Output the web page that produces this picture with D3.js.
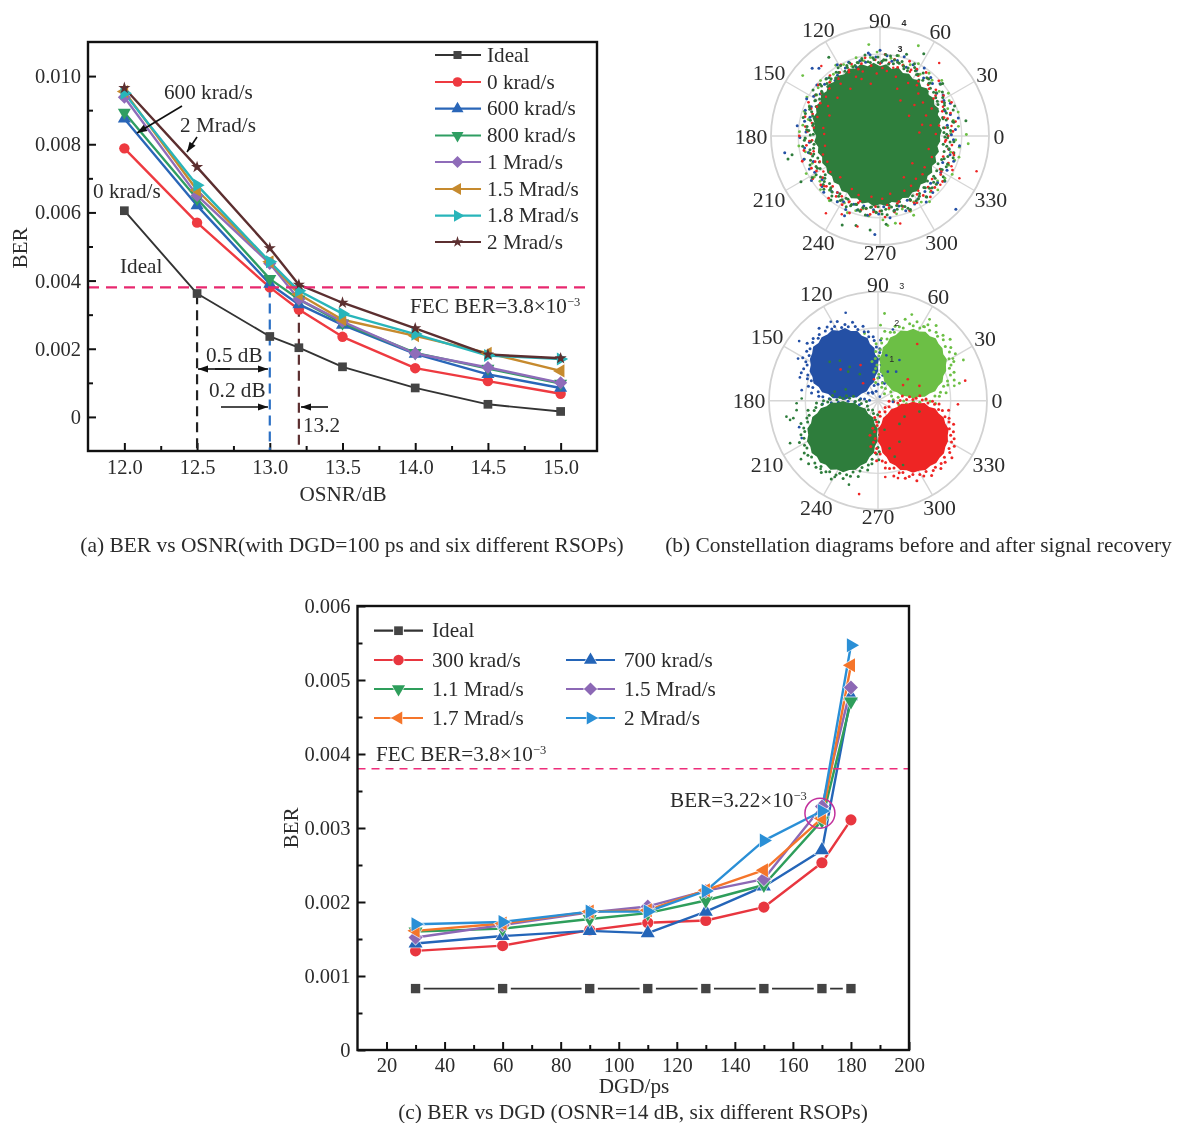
<!DOCTYPE html>
<html><head><meta charset="utf-8">
<script src="https://cdnjs.cloudflare.com/ajax/libs/d3/7.8.5/d3.min.js"></script>
<style>
html,body{margin:0;padding:0;background:#fff}
svg{display:block;filter:blur(0.35px)}
text{font-family:"Liberation Serif",serif;fill:#2b2b2b}
</style></head><body>
<svg id="c" width="1178" height="1123"></svg>
<script>
// ---------- panel (a) data ----------
const osnr=[12,12.5,13,13.2,13.5,14,14.5,15];
const osnrTicks=[12,12.5,13,13.5,14,14.5,15];
const a_names=["Ideal","0 krad/s","600 krad/s","800 krad/s","1 Mrad/s","1.5 Mrad/s","1.8 Mrad/s","2 Mrad/s"];
const a_ideal=[.00605,.00362,.00236,.00203,.00147,.00085,.00037,.00016];
const a_0k=[.00788,.0057,.0038,.00315,.00235,.00143,.00105,.00068];
const a_600k=[.00875,.0062,.0039,.0033,.0027,.00185,.00125,.00085];
const a_800k=[.00893,.0064,.00405,.00345,.00275,.00188,.00142,.00098];
const a_1M=[.00938,.0065,.0045,.00345,.0028,.00186,.00145,.001];
const a_15M=[.00955,.00665,.00455,.0036,.00285,.00238,.00187,.00135];
const a_18M=[.0095,.0068,.00455,.0037,.00303,.00243,.0018,.0017];
const a_2M=[.00965,.00733,.00495,.00388,.00335,.0026,.00183,.00172];
const a_series=[a_ideal,a_0k,a_600k,a_800k,a_1M,a_15M,a_18M,a_2M];
const a_colors=["#333333","#ee3a40","#2a66b8","#2f9e62","#8f6cb9","#c68a2e","#28b5ba","#5c2f30"];
const a_markers=["square","circle","up","down","diamond","left","right","star"];
const fec=0.0038;
// ---------- panel (c) data ----------
const dgd=[30,60,90,110,130,150,170,180];
const c_names=["Ideal","300 krad/s","700 krad/s","1.1 Mrad/s","1.5 Mrad/s","1.7 Mrad/s","2 Mrad/s"];
const c_ideal=[.00083,.00083,.00083,.00083,.00083,.00083,.00083,.00083];
const c_300k=[.00134,.00141,.00162,.00172,.00175,.00193,.00253,.00311];
const c_700k=[.00144,.00154,.00161,.00158,.00187,.00221,.0027,.00478];
const c_11M=[.0016,.00164,.00177,.00185,.00202,.00223,.0031,.00471];
const c_15M=[.00152,.00169,.00186,.00194,.00215,.00231,.00329,.0049];
const c_17M=[.00161,.00171,.00187,.00189,.00216,.00243,.00313,.0052];
const c_2M=[.0017,.00173,.00187,.00187,.00215,.00283,.00323,.00547];
const c_series=[c_ideal,c_300k,c_700k,c_11M,c_15M,c_17M,c_2M];
const c_colors=["#333333","#e8363f","#2465b8","#2e9e5b","#8c68b5","#f5752a","#2a8fd6"];
const c_markers=["square","circle","up","down","diamond","left","right"];
// ---------- panel (b) data ----------
const angles=[0,30,60,90,120,150,180,210,240,270,300,330];
// top constellation: ragged core outline every 5 deg
const b1_core=[2.2,2.28,2.2,2.32,2.26,2.38,2.3,2.42,2.34,2.46,2.36,2.5,2.42,2.52,2.46,2.6,2.5,2.64,2.56,2.7,2.6,2.74,2.64,2.72,2.62,2.7,2.6,2.68,2.56,2.64,2.52,2.6,2.48,2.56,2.42,2.48,2.34,2.42,2.3,2.36,2.26,2.34,2.28,2.36,2.3,2.4,2.34,2.46,2.4,2.52,2.44,2.56,2.48,2.6,2.5,2.58,2.46,2.54,2.42,2.5,2.38,2.46,2.32,2.4,2.28,2.34,2.2,2.28,2.16,2.24,2.14,2.22];
// dense fringe: radius of a dot per angular slot of the band around the core
const b1_ring_dg=[2.45,2.6,2.35,2.75,2.5,2.4,2.85,2.55,2.62,2.42,2.7,2.48,2.6,2.92,2.55,2.68,2.75,2.58,2.8,2.66,2.72,2.94,2.7,2.62,2.85,2.78,2.7,2.96,2.8,2.74,2.9,2.82,2.72,3.02,2.86,2.8,2.74,2.9,2.78,2.7,2.94,2.84,2.66,2.76,2.88,2.64,2.82,2.7,2.98,2.6,2.72,2.5,2.8,2.66,2.58,2.9,2.48,2.7,2.62,2.45,2.75,2.55,2.86,2.48,2.66,2.58,2.42,2.78,2.6,2.5,2.92,2.65,2.55,2.74,2.84,2.62,2.7,2.96,2.68,2.78,2.6,2.88,2.72,2.66,2.82,2.7,2.95,2.64,2.76,2.6,2.86,2.7,2.56,2.8,2.62,2.52,2.74,2.92,2.6,2.5,2.7,2.56,2.82,2.48,2.64,2.4,2.72,2.55,2.88,2.44,2.6,2.36,2.68,2.5,2.8,2.42,2.58,2.34,2.72,2.48];
const b1_ring2_dg=[2.35,2.5,2.72,2.4,2.58,2.3,2.66,2.46,2.8,2.54,2.38,2.64,2.74,2.5,2.62,2.82,2.6,2.7,2.76,2.84,2.66,2.8,2.7,2.88,2.76,2.92,2.82,2.72,2.86,2.96,2.78,2.68,2.84,2.74,2.9,2.64,2.8,2.7,2.58,2.76,2.86,2.62,2.5,2.7,2.56,2.78,2.44,2.62,2.52,2.7,2.42,2.58,2.74,2.46,2.64,2.54,2.68,2.82,2.58,2.72,2.6,2.78,2.66,2.86,2.7,2.62,2.8,2.74,2.9,2.64,2.76,2.68,2.84,2.58,2.72,2.64,2.8,2.52,2.7,2.6,2.46,2.76,2.56,2.68,2.42,2.6,2.78,2.48,2.58,2.38];
const b1_ring_blue=[2.62,2.78,2.5,2.95,2.7,2.56,2.85,2.68,2.76,2.6,2.92,2.72,2.84,2.66,2.98,2.76,2.88,2.7,3.04,2.84,2.78,2.96,2.7,2.9,3.0,2.76,2.86,2.68,2.94,2.8,3.05,2.72,2.62,2.88,2.78,2.98,2.68,2.84,3.02,2.74,2.9,2.66,2.82,3.06,2.72,2.94,2.6,2.8,2.7,2.92,2.62,2.86,2.74,3.0,2.66,2.82,2.92,2.7,2.6,2.88,2.76,2.98,2.68,2.84,2.64,2.94,2.72,2.86,2.6,3.02,2.78,2.66,2.9,2.56,2.8,2.7,2.96,2.62,2.84,2.54,2.72,2.9,2.6,2.76,2.5,2.86,2.66,2.58,2.94,2.7];
const b1_ring_red=[2.5,2.68,2.4,2.82,2.56,2.72,2.46,2.9,2.6,2.76,2.52,2.66,2.96,2.58,2.74,2.88,2.62,2.8,2.68,2.95,2.72,2.6,2.86,2.7,3.0,2.66,2.8,2.6,2.92,2.74,2.58,2.84,2.68,2.98,2.76,2.6,2.88,2.7,2.55,2.94,2.66,2.8,2.5,2.9,2.72,2.6,2.84,2.54,2.76,2.66,2.96,2.5,2.72,2.84,2.62,3.0,2.56,2.78,2.66,2.92,2.6,2.82,2.7,2.54,2.96,2.74,2.62,2.88,2.68,3.04,2.58,2.8,2.72,2.9,2.6,2.76,2.98,2.66,2.84,2.56,2.72,2.94,2.62,2.8,2.54,2.7,2.9,2.58,2.76,2.48,2.84,2.64,2.52,2.94,2.7,2.44,2.8,2.56,2.66,2.42];
const b1_ring_lg=[2.6,2.9,2.75,3.0,2.68,2.85,2.96,2.72,3.05,2.8,2.92,2.7,3.0,2.84,2.74,3.02,2.88,2.78,3.08,2.9,2.82,3.0,2.76,2.94,3.06,2.84,2.72,2.98,2.88,2.76,3.04,2.82,2.92,2.7,2.86,2.96,2.74,3.0,2.8,2.9,2.68,3.04,2.84,2.76,2.94,2.72,3.02,2.86,2.78,3.06,2.88,2.74,2.96,2.82,3.08,2.7,2.92,2.8,2.98,2.72,2.86,3.02,2.76,2.9,2.68,2.84,3.0,2.74,2.88,2.66,2.94,2.78];
// scattered points [deg,radius]
const b1_lg=[[97,3.38],[67,3.6],[142,3.6],[1,3.17],[355,3.25],[345,3.0],[293,3.16],[280,3.25],[275,3.3]];
const b1_blue=[[190,3.55],[316,3.87],[267,3.62],[135,3.52],[132,3.35],[98,3.08],[90,3.15],[246,3.2]];
const b1_dg=[[123,3.45],[62,3.42],[72,3.15],[10,3.2],[194,3.48],[192,3.3],[210,3.35],[247,3.55],[264,3.47],[255,3.4],[274,3.25],[86,3.0],[78,3.02],[40,3.0],[22,2.95]];
const b1_red=[[340,3.77],[51,3.45],[130,3.35],[256,3.42],[283,3.3],[244,3.2],[235,3.46],[332,3.3],[8,2.65],[16,2.45],[25,2.55],[35,2.4],[44,2.5],[55,2.45],[65,2.6],[79,2.55],[88,2.5],[105,2.45],[116,2.6],[127,2.4],[144,2.45],[155,2.55],[163,2.4],[173,2.45],[184,2.6],[193,2.5],[203,2.4],[212,2.45],[222,2.75],[233,2.6],[245,2.65],[253,2.5],[265,2.8],[276,2.55],[286,2.5],[297,2.75],[305,2.45],[313,2.75],[321,2.85],[330,2.6],[337,2.85],[347,2.75],[355,2.4],[2,2.05],[12,1.9],[24,1.85],[38,2.0],[48,2.1],[62,2.2],[75,2.25],[93,2.3],[108,2.2],[122,2.05],[138,2.1],[158,2.0],[172,2.1],[190,2.05],[206,2.15],[226,2.1],[242,2.2],[262,2.25],[280,2.15],[294,2.2],[310,2.05],[325,2.0],[345,1.85],[15,1.6],[42,1.7],[70,1.85],[100,1.95],[35,1.3],[320,1.55],[300,1.75],[5,1.45],[60,1.5],[10,2.2],[28,2.15],[54,2.3],[84,2.4],[112,2.35],[150,2.2],[178,2.05],[198,2.2],[216,2.25],[250,2.3],[272,2.3],[302,2.15],[318,2.1],[338,2.05]];
// bottom constellation: cluster centres, ragged outlines (every 10 deg), fringe radii (every 5 deg)
const b2_clusters=[
 {color:"#2450a5",center:[-.91,.98],radii:[.9,.95,.88,.94,.9,.97,.93,1.0,.95,1.02,.96,1.03,.97,1.0,.95,1.01,.96,.98,.94,.99,.95,1.0,.94,.98,.92,.97,.93,.96,.9,.95,.91,.94,.9,.93,.89,.93],
  fringe:[1.0,1.08,.98,1.15,1.02,1.06,1.0,1.2,1.05,1.1,1.02,1.12,1.06,1.18,1.04,1.1,1.2,1.06,1.12,1.04,1.22,1.1,1.06,1.16,1.08,1.24,1.1,1.04,1.14,1.08,1.2,1.06,1.12,1.02,1.18,1.08,1.04,1.14,1.22,1.06,1.1,1.02,1.16,1.08,1.2,1.04,1.12,1.06,1.24,1.02,1.1,1.16,1.04,1.08,1.2,1.0,1.1,1.05,1.16,1.02,1.08,1.18,1.0,1.06,1.12,.98,1.05,1.14,1.0,1.08,1.02,1.1]},
 {color:"#6cbf45",center:[.97,.98],radii:[.9,.94,.88,.93,.91,.96,.92,.98,.94,1.0,.95,1.01,.96,.99,.93,.97,.92,.95,.9,.94,.88,.92,.89,.91,.87,.9,.88,.92,.89,.93,.9,.94,.9,.93,.88,.92],
  fringe:[1.04,1.12,1.0,1.2,1.06,1.14,1.02,1.24,1.08,1.16,1.04,1.1,1.26,1.06,1.18,1.1,1.04,1.2,1.08,1.14,1.28,1.06,1.12,1.18,1.04,1.1,1.22,1.02,1.14,1.06,1.18,1.0,1.1,.98,1.06,1.14,1.0,1.04,1.1,.98,1.04,1.14,.98,1.06,1.0,1.12,.96,1.04,1.1,.98,1.16,1.02,1.08,1.2,1.0,1.1,1.04,1.16,1.02,1.1,1.22,1.04,1.12,1.06,1.18,1.02,1.1,1.04,1.2,1.06,1.14,1.0]},
 {color:"#2e7d3c",center:[-.96,-.94],radii:[.93,.97,.92,.96,.9,.95,.9,.94,.89,.93,.9,.95,.91,.96,.93,.98,.94,1.0,.96,1.01,.96,1.0,.94,.99,.95,1.02,.97,1.03,.98,1.02,.97,1.0,.95,.98,.93,.97],
  fringe:[1.0,1.08,1.02,1.14,1.04,.98,1.1,1.02,1.06,.98,1.04,1.12,1.0,1.06,.98,1.1,1.02,1.08,1.0,1.04,.98,1.12,1.04,1.0,1.08,1.02,1.14,1.06,1.04,1.18,1.08,1.1,1.04,1.2,1.1,1.06,1.16,1.08,1.22,1.1,1.06,1.18,1.12,1.06,1.24,1.1,1.16,1.06,1.2,1.12,1.08,1.26,1.12,1.06,1.2,1.1,1.16,1.06,1.22,1.1,1.04,1.18,1.08,1.12,1.04,1.2,1.06,1.1,1.02,1.14,1.06,1.02]},
 {color:"#ee2524",center:[.96,-.95],radii:[.96,1.0,.95,.98,.93,.96,.9,.94,.89,.92,.88,.92,.89,.93,.91,.95,.92,.97,.94,.98,.93,.97,.94,.99,.96,1.02,.98,1.03,.99,1.02,.97,1.0,.96,.99,.95,.98],
  fringe:[1.04,1.12,1.02,1.16,1.06,1.1,1.02,1.2,1.06,1.0,1.12,1.04,1.08,.98,1.06,1.0,1.1,1.02,.98,1.06,1.0,1.12,1.02,.98,1.06,1.14,1.02,1.08,1.0,1.12,1.04,1.16,1.06,1.02,1.12,1.06,1.18,1.04,1.1,1.2,1.06,1.14,1.04,1.22,1.1,1.06,1.18,1.12,1.04,1.24,1.1,1.06,1.2,1.14,1.08,1.26,1.1,1.16,1.06,1.22,1.12,1.08,1.2,1.1,1.16,1.06,1.24,1.12,1.06,1.18,1.08,1.14]}];
const b2_blue=[[-.89,2.42],[-1.3,2.17],[-2.17,1.64],[-2.2,1.16],[-2.15,.64],[-2.1,.29],[-2.17,-.73],[-2.1,-1.03],[.59,1.12],[.5,.8],[.27,.8],[.23,1.25],[.41,1.96],[.18,.47],[-.14,.2],[.05,.11],[.41,-.03]];
const b2_lg=[[.18,2.4],[.93,2.37],[1.42,2.24],[1.28,2.03],[2.35,1.12],[2.06,1.16],[2.24,.48],[2.1,.41],[.07,2.08],[-.37,1.85]];
const b2_dg_pts=[[-2.52,-.44],[-2.42,-.53],[-2.33,-.48],[-2.42,-1.17],[-2.12,-1.61],[-1.58,-1.88],[-1.19,-2.1],[-.8,-2.31],[-2.1,.06],[-2.24,-.07],[-2.24,-.26],[.59,-.64],[.73,-.44],[1.14,-.3],[.18,-.8],[.32,-1.31],[.59,-1.13],[.46,-1.54],[.69,-1.77],[-1.33,1.07],[-1.05,1.1],[-.78,.93],[-.82,.8],[-.5,.73],[-1.19,.25],[-.89,.31]];
const b2_red=[[-.52,-2.57],[2.4,.55],[2.2,-.1],[.2,-2.1],[.55,-2.13],[-1.03,.86],[-.48,.98],[-.41,.48],[-.11,.59],[1.08,1.56],[.82,.59],[1.14,.41],[.69,.43]];
const b2_labels=[["3",3],["2",2],["1",1]];
const b1_labels=[["4",4],["3",3]];

const svg=d3.select("#c");
const FS=20.5, FL=21.2, FC=21.45;
const ink="#2b2b2b";

function markerPath(kind,s){
  const sym={square:d3.symbolSquare,circle:d3.symbolCircle,up:d3.symbolTriangle,down:d3.symbolTriangle,left:d3.symbolTriangle,right:d3.symbolTriangle,diamond:d3.symbolSquare,star:d3.symbolStar}[kind];
  return d3.symbol().type(sym).size(s)();
}
const markerRot={down:180,left:-90,right:90,diamond:45};
const markerSize={square:76,circle:85,up:74,down:74,left:74,right:74,diamond:85,star:46};

function drawMarker(g,kind,color,x,y,scale,halo,gap){
  g.append("path").attr("d",markerPath(kind,markerSize[kind]*scale))
   .attr("transform",`translate(${x},${y}) rotate(${markerRot[kind]||0})`)
   .attr("fill",color==="#333333"?"#444444":color)
   .attr("stroke",halo).attr("stroke-width",halo==="none"?0:(kind==="square"?gap:1.6)).attr("stroke-opacity",kind==="square"?1:.7)
   .style("paint-order","stroke");
}

function fecText(g,x,y){
  const t=g.append("text").attr("x",x).attr("y",y).attr("font-size",FL);
  t.append("tspan").text("FEC BER=3.8×10");
  t.append("tspan").attr("dy",-7).attr("font-size",12.5).text("−3");
  return t;
}

function frame(g,left,right,top,bottom){
  g.append("rect").attr("x",left).attr("y",top).attr("width",right-left).attr("height",bottom-top)
   .attr("fill","none").attr("stroke","#111").attr("stroke-width",2.4);
}
function styleAxis(a){a.select(".domain").remove();a.selectAll("line").attr("stroke","#111").attr("stroke-width",2);a.selectAll("text").attr("font-size",FS).attr("font-family","Liberation Serif").attr("fill",ink);}

function lineChart(opt){
  const {g,x,y,xvals,series,colors,markers,scale,width,halo}=opt;
  const line=d3.line().x((d,i)=>x(xvals[i])).y(d=>y(d));
  series.forEach((s,k)=>{
    g.append("path").attr("d",line(s)).attr("fill","none").attr("stroke",colors[k])
     .attr("stroke-width",k===0?1.9:width).attr("stroke-linejoin","round");
  });
  series.forEach((s,k)=>{
    s.forEach((v,i)=>drawMarker(g,markers[k],colors[k],x(xvals[i]),y(v),scale,halo,7));
  });
}

// ============ panel (a) ============
(function(){
  const L=88,R=597,T=42,B=451;
  const x=d3.scaleLinear().domain([11.75,15.25]).range([L,R]);
  const y=d3.scaleLinear().domain([-.001,.011]).range([B,T]);
  const g=svg.append("g");
  const ax=d3.axisBottom(x).tickValues(osnrTicks).tickFormat(d3.format(".1f")).tickSize(-8).tickPadding(8);
  const ay=d3.axisLeft(y).tickValues(d3.range(0,.0101,.002)).tickFormat(d=>d===0?"0":d3.format(".3f")(d)).tickSize(-8).tickPadding(7);
  const ax2=d3.axisBottom(x).tickValues(d3.range(12.25,15.2,.5)).tickFormat("").tickSize(-5);
  const ay2=d3.axisLeft(y).tickValues(d3.range(.001,.0105,.002)).tickFormat("").tickSize(-5);
  styleAxis(g.append("g").attr("transform",`translate(0,${B})`).call(ax));
  styleAxis(g.append("g").attr("transform",`translate(${L},0)`).call(ay));
  styleAxis(g.append("g").attr("transform",`translate(0,${B})`).call(ax2));
  styleAxis(g.append("g").attr("transform",`translate(${L},0)`).call(ay2));
  const drops=[[12.5,.0036,"#222222"],[13,.0038,"#2a6fc4"],[13.2,.0037,"#5c2f30"]];
  drops.forEach(d=>g.append("line").attr("x1",x(d[0])).attr("x2",x(d[0])).attr("y1",y(d[1])).attr("y2",B)
    .attr("stroke",d[2]).attr("stroke-width",2.2).attr("stroke-dasharray","10,6"));
  lineChart({g,x,y,xvals:osnr,series:a_series,colors:a_colors,markers:a_markers,scale:1,width:2.4,halo:"none"});
  g.append("line").attr("x1",L).attr("x2",R-6).attr("y1",y(fec)).attr("y2",y(fec))
   .attr("stroke","#e8286f").attr("stroke-width",2.4).attr("stroke-dasharray","11,7");
  frame(g,L,R,T,B);
  const rows=[55,82,108.7,135.5,162,189,215.7,242];
  a_names.forEach((n,i)=>{
    g.append("line").attr("x1",435).attr("x2",481).attr("y1",rows[i]).attr("y2",rows[i]).attr("stroke",a_colors[i]).attr("stroke-width",2.2);
    drawMarker(g,a_markers[i],a_colors[i],457.5,rows[i],.85,"none",0);
    g.append("text").attr("x",487).attr("y",rows[i]+6.5).attr("font-size",FL).text(n);
  });
  const labels=[["600 krad/s",164,99],["2 Mrad/s",180,132],["0 krad/s",93,198],["Ideal",120,273],["0.5 dB",206,362],["0.2 dB",209,397],["13.2",303,432]];
  labels.forEach(l=>g.append("text").attr("x",l[1]).attr("y",l[2]).attr("font-size",FL).text(l[0]));
  fecText(g,410,313);
  const arrows=[[182,106,137,133],[197,137,187,152],[221,407,268,407],[328,407,301,407],[215,369,268,369],[230,369,198,369]];
  const head=(x1,y1,x2,y2)=>{
    const t=Math.atan2(y2-y1,x2-x1),l=10,w=3.6;
    const p=[[x2,y2],[x2-l*Math.cos(t)+w*Math.sin(t),y2-l*Math.sin(t)-w*Math.cos(t)],[x2-l*Math.cos(t)-w*Math.sin(t),y2-l*Math.sin(t)+w*Math.cos(t)]];
    g.append("polygon").attr("points",p.join(" ")).attr("fill","#111");
  };
  arrows.forEach(a=>{
    g.append("line").attr("x1",a[0]).attr("y1",a[1]).attr("x2",a[2]).attr("y2",a[3]).attr("stroke","#111").attr("stroke-width",1.6);
    head(a[0],a[1],a[2],a[3]);
  });
  g.append("text").attr("transform","translate(27,248) rotate(-90)").attr("text-anchor","middle").attr("font-size",FL).text("BER");
  g.append("text").attr("x",343).attr("y",501).attr("text-anchor","middle").attr("font-size",FL).text("OSNR/dB");
  g.append("text").attr("x",352).attr("y",552).attr("text-anchor","middle").attr("font-size",FC).text("(a) BER vs OSNR(with DGD=100 ps and six different RSOPs)");
  g.append("text").attr("x",918.5).attr("y",552).attr("text-anchor","middle").attr("font-size",FC).text("(b) Constellation diagrams before and after signal recovery");
})();

// ============ panel (b) ============
function polarFrame(g,cx,cy,Rmax,rmax,rings){
  const r=d3.scaleLinear().domain([0,rmax]).range([0,Rmax]);
  rings.forEach(v=>g.append("circle").attr("cx",cx).attr("cy",cy).attr("r",r(v)).attr("fill","none")
     .attr("stroke",v===rmax?"#d2d2d2":"#dcdcdc").attr("stroke-width",v===rmax?1.8:1.4));
  angles.forEach(a=>{
    const t=a*Math.PI/180;
    g.append("line").attr("x1",cx).attr("y1",cy).attr("x2",cx+Rmax*Math.cos(t)).attr("y2",cy-Rmax*Math.sin(t))
     .attr("stroke","#d6d6d6").attr("stroke-width",1.4);
  });
  return r;
}
function polarLabels(g,cx,cy,Rmax){
  angles.forEach(a=>{
    const t=a*Math.PI/180,s=String(a),hw=s.length*5;
    const R=Rmax+5+Math.abs(Math.cos(t))*hw+Math.abs(Math.sin(t))*2;
    g.append("text").attr("x",cx+R*Math.cos(t)).attr("y",cy-R*Math.sin(t)+7.5).attr("text-anchor","middle").attr("font-size",21.8).text(s);
  });
}
function dots(g,pts,fx,fy,color,rad){
  g.selectAll(null).data(pts).enter().append("circle").attr("cx",fx).attr("cy",fy).attr("r",rad).attr("fill",color);
}
(function(){
  const g=svg.append("g"),cx=880,cy=136,Rm=109;
  const r=polarFrame(g,cx,cy,Rm,4,[3,4]);
  const X=d=>cx+r(d[1])*Math.cos(d[0]*Math.PI/180), Y=d=>cy-r(d[1])*Math.sin(d[0]*Math.PI/180);
  const ring=(arr,off)=>arr.map((v,i)=>[off+i*360/arr.length,v]);
  dots(g,b1_lg.concat(ring(b1_ring_lg,2)),X,Y,"#6cbf45",1.45);
  dots(g,b1_blue.concat(ring(b1_ring_blue,1)),X,Y,"#2450a5",1.5);
  const area=d3.lineRadial().angle((d,i)=>Math.PI/2-i*5*Math.PI/180).radius(d=>r(d)).curve(d3.curveLinearClosed);
  g.append("path").attr("d",area(b1_core)).attr("transform",`translate(${cx},${cy})`).attr("fill","#2e7d3c");
  dots(g,ring(b1_ring_red,0),X,Y,"#ee2524",1.4);
  dots(g,b1_dg.concat(ring(b1_ring_dg,1.5),ring(b1_ring2_dg,3.2)),X,Y,"#2e7d3c",1.5);
  dots(g,b1_red,X,Y,"#ee2524",1.25);
  polarLabels(g,cx,cy,Rm);
  g.append("text").attr("x",904).attr("y",26).attr("text-anchor","middle").attr("font-size",9).attr("font-weight","bold").style("font-family","Liberation Sans").text(b1_labels[0][0]);
  g.append("text").attr("x",900).attr("y",52).attr("text-anchor","middle").attr("font-size",9).attr("font-weight","bold").style("font-family","Liberation Sans").text(b1_labels[1][0]);
})();
(function(){
  const g=svg.append("g"),cx=878,cy=400.7,Rm=109;
  const r=polarFrame(g,cx,cy,Rm,3,[1,2,3]);
  const X=d=>cx+r(d[0]),Y=d=>cy-r(d[1]);
  const colours={blue:"#2450a5",lg:"#6cbf45",dg:"#2e7d3c",red:"#ee2524"};
  dots(g,b2_lg,X,Y,colours.lg,1.4);
  b2_clusters.forEach(c=>{
    const tr=`translate(${X(c.center)},${Y(c.center)})`;
    const area=d3.lineRadial().angle((d,i)=>Math.PI/2-i*10*Math.PI/180).radius(d=>r(d)).curve(d3.curveLinearClosed);
    g.append("path").attr("d",area(c.radii)).attr("transform",tr).attr("fill",c.color);
    const fr=c.fringe.map((v,i)=>[i*5,v]);
    const cc=X(c.center),dd=Y(c.center);
    dots(g,fr,d=>cc+r(d[1])*Math.cos(d[0]*Math.PI/180),d=>dd-r(d[1])*Math.sin(d[0]*Math.PI/180),c.color,1.5);
  });
  dots(g,b2_blue,X,Y,colours.blue,1.35);
  dots(g,b2_dg_pts,X,Y,colours.dg,1.35);
  dots(g,b2_red,X,Y,colours.red,1.35);
  polarLabels(g,cx,cy,Rm);
  const pos=[[901.7,289],[896.7,326],[891.7,362]];
  b2_labels.forEach((l,i)=>g.append("text").attr("x",pos[i][0]).attr("y",pos[i][1]).attr("text-anchor","middle").attr("font-size",9).style("font-family","Liberation Sans").text(l[0]));
})();

// ============ panel (c) ============
(function(){
  const L=357.5,R=909,T=606,B=1050;
  const x=d3.scaleLinear().domain([10,200]).range([L,R]);
  const y=d3.scaleLinear().domain([0,.006]).range([B,T]);
  const g=svg.append("g");
  const ax=d3.axisBottom(x).tickValues(d3.range(20,201,20)).tickSize(-8).tickPadding(7);
  const ay=d3.axisLeft(y).tickValues(d3.range(0,.00601,.001)).tickFormat(d=>d===0?"0":d3.format(".3f")(d)).tickSize(-8).tickPadding(7);
  const ax2=d3.axisBottom(x).tickValues(d3.range(30,200,20)).tickFormat("").tickSize(-5);
  const ay2=d3.axisLeft(y).tickValues(d3.range(.0005,.0056,.001)).tickFormat("").tickSize(-5);
  styleAxis(g.append("g").attr("transform",`translate(0,${B})`).call(ax));
  styleAxis(g.append("g").attr("transform",`translate(${L},0)`).call(ay));
  styleAxis(g.append("g").attr("transform",`translate(0,${B})`).call(ax2));
  styleAxis(g.append("g").attr("transform",`translate(${L},0)`).call(ay2));
  lineChart({g,x,y,xvals:dgd,series:c_series,colors:c_colors,markers:c_markers,scale:1.15,width:2.4,halo:"#ffffff"});
  g.append("line").attr("x1",L).attr("x2",R).attr("y1",y(fec)).attr("y2",y(fec))
   .attr("stroke","#ee2d7a").attr("stroke-width",1.6).attr("stroke-dasharray","8,6");
  frame(g,L,R,T,B);
  const legend=[[374,630.7],[374,660],[566,660],[374,689],[566,689],[374,718],[566,718]];
  c_names.forEach((n,i)=>{
    const p=legend[i];
    g.append("line").attr("x1",p[0]).attr("x2",p[0]+49).attr("y1",p[1]).attr("y2",p[1]).attr("stroke",c_colors[i]).attr("stroke-width",2.2);
    drawMarker(g,c_markers[i],c_colors[i],p[0]+24.5,p[1],1,"#ffffff",2);
    g.append("text").attr("x",p[0]+58).attr("y",p[1]+6.5).attr("font-size",FL).text(n);
  });
  fecText(g,376,761);
  const t=g.append("text").attr("x",670).attr("y",807).attr("font-size",FL);
  t.append("tspan").text("BER=3.22×10");
  t.append("tspan").attr("dy",-7).attr("font-size",12.5).text("−3");
  g.append("circle").attr("cx",x(170)-2).attr("cy",y(.00322)+1.5).attr("r",15).attr("fill","none").attr("stroke","#c2309c").attr("stroke-width",1.5);
  g.append("text").attr("transform","translate(298,828) rotate(-90)").attr("text-anchor","middle").attr("font-size",FL).text("BER");
  g.append("text").attr("x",634).attr("y",1093).attr("text-anchor","middle").attr("font-size",FL).text("DGD/ps");
  g.append("text").attr("x",633).attr("y",1119).attr("text-anchor","middle").attr("font-size",FC).text("(c) BER vs DGD (OSNR=14 dB, six different RSOPs)");
})();
</script>
</body></html>
